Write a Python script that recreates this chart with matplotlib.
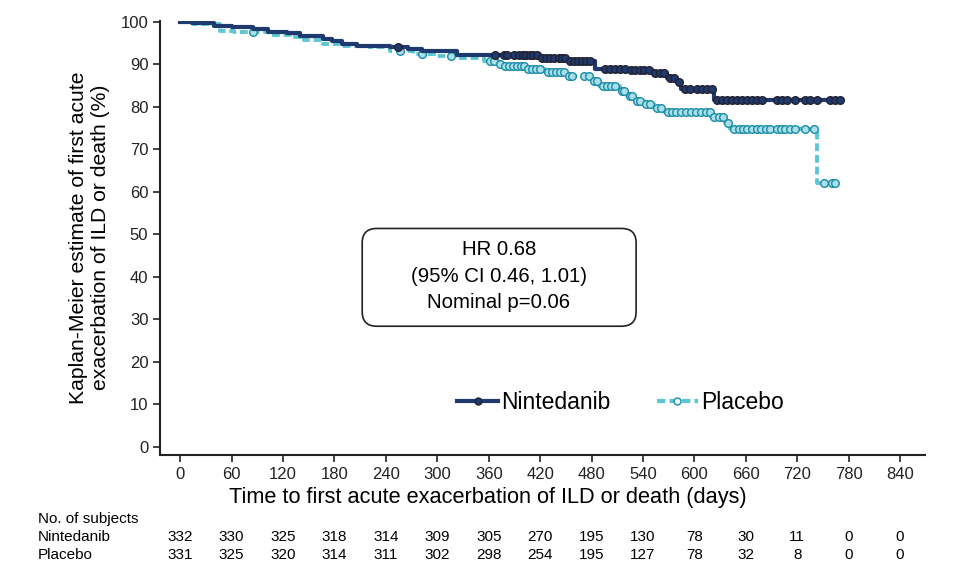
import numpy as np
import matplotlib
matplotlib.use("Agg")
import matplotlib.pyplot as plt
from matplotlib.lines import Line2D
from matplotlib.patches import FancyBboxPatch
from matplotlib.transforms import blended_transform_factory

plt.rcParams['font.family'] = ['Liberation Sans', 'DejaVu Sans']

# Kaplan-Meier step data (day, estimate %)
nin_t = [0, 14, 39, 60, 85, 103, 125, 140, 167, 177, 189, 206, 245, 266, 282, 323,
         420, 449, 484, 523, 550, 568, 580, 584, 623, 772]
nin_s = [100, 99.8, 99.1, 98.7, 98.3, 97.7, 97.3, 96.6, 95.9, 95.4, 94.7, 94.4, 94.0,
         93.6, 93.2, 92.1, 91.6, 90.8, 89.0, 88.7, 87.9, 86.9, 85.8, 84.2, 81.7, 81.7]
nin_cens = [254, 367.6, 377.3, 381.2, 389.8, 394.8, 399.9, 403.8, 407.7, 411.6, 416.2,
            422, 427, 431.8, 436.4, 441.5, 445.4, 448.5,
            454.3, 459, 463.7, 468.7, 473.8, 478.4,
            496, 501.8, 507.6, 513.5, 519.3,
            526, 531, 536, 541.5, 546.5,
            554.3, 560, 564.8, 571, 575.7, 581.5,
            589.3, 595, 603, 608.8, 614.6, 620.5,
            626.3, 632, 638, 643.8, 649.6, 655.4, 661.3, 667, 673, 678.8, 696.3, 702,
            708, 717.7, 729.4, 735.2, 743, 758.5, 764.3, 770.2]

pla_t = [0, 15, 47, 63, 105, 128, 144, 167, 187, 220, 245, 272, 300, 323, 355, 371,
         378, 403, 426, 450.5, 480.4, 489, 513.5, 521, 530, 541, 552.4, 565, 619.3,
         636, 642, 743, 766]
pla_s = [100, 99.5, 97.9, 97.7, 96.8, 96.4, 95.7, 94.9, 94.4, 94.2, 93.2, 92.4, 92.0,
         91.5, 90.8, 90.0, 89.7, 89.0, 88.2, 87.3, 86.2, 85.0, 83.8, 82.6, 81.5, 80.7,
         79.8, 78.9, 77.7, 76.2, 74.8, 62.2, 62.2]
pla_cens = [85, 257, 282, 316, 361.7, 365.6, 373.4,
            379.3, 384, 388.2, 392.9, 397.5, 401.4,
            405.3, 410.4, 415.4, 420,
            428.7, 433.7, 438.8, 443.5, 448.1,
            453.2, 457, 471.4, 476.5, 482.3, 486.2,
            493.2, 497.9, 502.6, 507.6, 515.4, 518, 524.4, 527.5, 533, 536.8,
            543.8, 548.5, 556.3, 561,
            568.7, 573.8, 578.8, 584.3, 590.5, 596, 602.2, 607.6, 613, 617.7,
            622.4, 628.2, 633.3, 638.7,
            646.5, 651.6, 656.6, 661.3, 667.1, 673, 677.6, 683.8, 688.5, 696.3, 701,
            706, 711, 717.7, 729.4, 739, 751.5, 760.5, 764.3]

ticks = list(range(0, 841, 60))
nin_risk = [332, 330, 325, 318, 314, 309, 305, 270, 195, 130, 78, 30, 11, 0, 0]
pla_risk = [331, 325, 320, 314, 311, 302, 298, 254, 195, 127, 78, 32, 8, 0, 0]

navy = '#1f3a6e'
teal = '#5cc6d6'
teal_edge = '#1a8ca6'


def at(t, s, x):
    i = np.searchsorted(t, x, side='right') - 1
    return np.array(s)[i]


fig = plt.figure(figsize=(9.65, 5.72), dpi=100)
ax = fig.add_axes([0.166, 0.2045, 0.7925, 0.7595])

ax.step(pla_t, pla_s, where='post', color=teal, lw=2.8, dashes=(2, 1), zorder=2)
ax.plot(pla_cens, at(pla_t, pla_s, pla_cens), ls='none', marker='o', ms=5.5,
        mfc='#a9dfe8', mec=teal_edge, mew=1.0, zorder=3)
ax.step(nin_t, nin_s, where='post', color=navy, lw=3, zorder=4)
ax.plot(nin_cens, at(nin_t, nin_s, nin_cens), ls='none', marker='o', ms=5.5,
        mfc=navy, mec='#222230', mew=1.0, zorder=5)

ax.set_xlim(-23.3, 869)
ax.set_ylim(-1.9, 100.3)
ax.set_xticks(ticks)
ax.set_yticks(range(0, 101, 10))
ax.tick_params(labelsize=12, length=5, width=1.2, colors='#222222')
for sp in ['top', 'right']:
    ax.spines[sp].set_visible(False)
for sp in ['left', 'bottom']:
    ax.spines[sp].set_linewidth(1.5)
    ax.spines[sp].set_color('#222222')

ax.set_ylabel('Kaplan-Meier estimate of first acute\nexacerbation of ILD or death (%)',
              fontsize=15.2, labelpad=8)
fig.text(0.506, 0.131, 'Time to first acute exacerbation of ILD or death (days)',
         ha='center', va='center', fontsize=15.7)

# hazard-ratio box
box = FancyBboxPatch((212.4, 28.4), 319.6, 23.0,
                     boxstyle='round,pad=0,rounding_size=17', mutation_aspect=0.2,
                     fc='white', ec='#222222', lw=1.2, zorder=6)
ax.add_patch(box)
ax.text(372, 40.2, 'HR 0.68\n(95% CI 0.46, 1.01)\nNominal p=0.06', ha='center',
        va='center', fontsize=14.7, linespacing=1.5, zorder=7)

h1 = Line2D([], [], color=navy, lw=3, marker='o', ms=5, mfc=navy, mec='#222230')
h2 = Line2D([], [], color=teal, lw=3, dashes=(2, 1), marker='o', ms=5,
            mfc='white', mec=teal_edge)
ax.legend([h1, h2], ['Nintedanib', 'Placebo'], ncol=2, loc='center',
          bbox_to_anchor=(0.602, 0.12), frameon=False, fontsize=16.5,
          handlelength=1.8, handletextpad=0.15, columnspacing=2.0)

tr = blended_transform_factory(ax.transData, fig.transFigure)
fig.text(0.039, 0.0927, 'No. of subjects', fontsize=11, va='center')
fig.text(0.039, 0.0612, 'Nintedanib', fontsize=11, va='center')
fig.text(0.039, 0.0297, 'Placebo', fontsize=11, va='center')
for x, a, b in zip(ticks, nin_risk, pla_risk):
    ax.text(x, 0.0612, str(a), transform=tr, ha='center', va='center', fontsize=11)
    ax.text(x, 0.0297, str(b), transform=tr, ha='center', va='center', fontsize=11)

fig.savefig('out.png', dpi=100)
